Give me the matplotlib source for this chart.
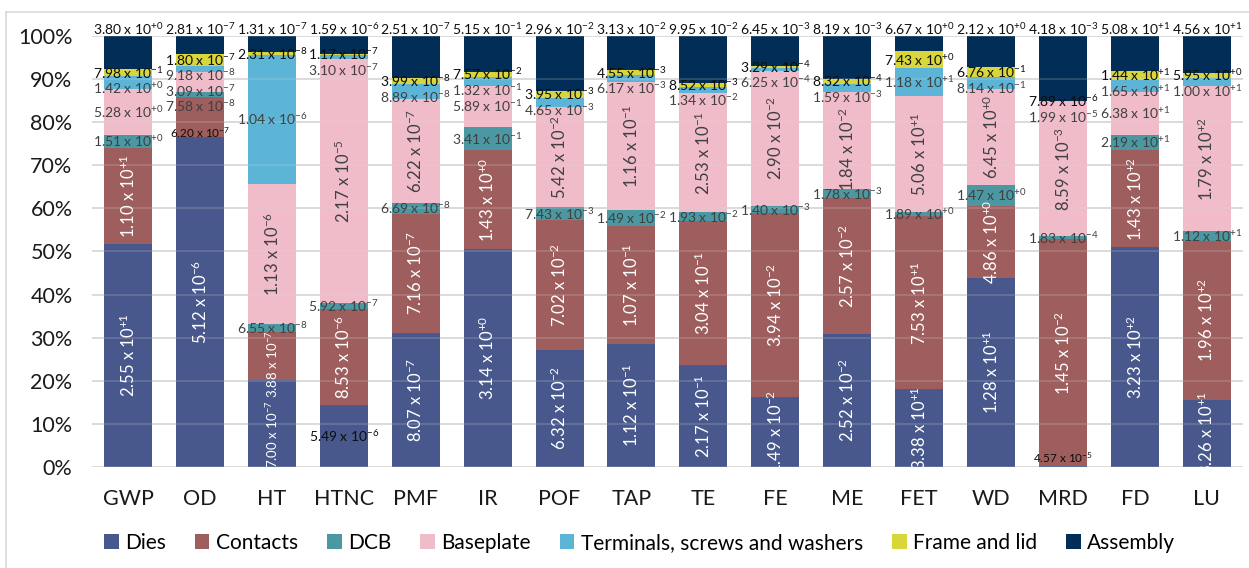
import numpy as np
import matplotlib.pyplot as plt
from matplotlib.lines import Line2D

plt.rcParams['font.family'] = ['Lato', 'DejaVu Sans']
plt.rcParams['mathtext.default'] = 'regular'

categories = ['GWP', 'OD', 'HT', 'HTNC', 'PMF', 'IR', 'POF', 'TAP',
              'TE', 'FE', 'ME', 'FET', 'WD', 'MRD', 'FD', 'LU']
series = ['Dies', 'Contacts', 'DCB', 'Baseplate',
          'Terminals, screws and washers', 'Frame and lid', 'Assembly']

dies = [2.55e1, 5.12e-6, 7.00e-7, 5.49e-6, 8.07e-7, 3.14e0, 6.32e-2, 1.12e-1,
        2.17e-1, 1.49e-2, 2.52e-2, 3.38e1, 1.28e1, 4.57e-5, 3.23e2, 8.26e1]
contacts = [1.10e1, 6.20e-7, 3.88e-7, 8.53e-6, 7.16e-7, 1.43e0, 7.02e-2, 1.07e-1,
            3.04e-1, 3.94e-2, 2.57e-2, 7.53e1, 4.86e0, 1.45e-2, 1.43e2, 1.96e2]
dcb = [1.51e0, 7.58e-8, 6.55e-8, 5.92e-7, 6.69e-8, 3.41e-1, 7.43e-3, 1.49e-2,
       1.93e-2, 1.40e-3, 1.78e-3, 1.89e0, 1.47e0, 1.83e-4, 2.19e1, 1.12e1]
baseplate = [5.28e0, 3.09e-7, 1.13e-6, 2.17e-5, 6.22e-7, 5.89e-1, 5.42e-2, 1.16e-1,
             2.53e-1, 2.90e-2, 1.84e-2, 5.06e1, 6.45e0, 8.59e-3, 6.38e1, 1.79e2]
terminals = [1.42e0, 9.18e-8, 1.04e-6, 3.10e-7, 8.89e-8, 1.32e-1, 4.65e-3, 6.17e-3,
             1.34e-2, 6.25e-4, 1.59e-3, 1.18e1, 8.14e-1, 1.99e-5, 1.65e1, 1.00e1]
frame = [7.98e-1, 1.80e-7, 2.31e-8, 1.17e-7, 3.99e-8, 7.57e-2, 3.95e-3, 4.55e-3,
         8.52e-3, 3.29e-4, 8.32e-4, 7.43e0, 6.76e-1, 7.89e-6, 1.44e1, 5.95e0]
assembly = [3.80e0, 2.81e-7, 1.31e-7, 1.59e-6, 2.51e-7, 5.15e-1, 2.96e-2, 3.13e-2,
            9.95e-2, 6.45e-3, 8.19e-3, 6.67e0, 2.12e0, 4.18e-3, 5.08e1, 4.56e1]

colors = ['#48588C', '#9E5E5E', '#4B98A2', '#F0BCCA', '#5CB4D6', '#D8D63A', '#022D56']


def sci(v):
    m, e = f'{v:.2e}'.split('e')
    return f'{m} x 10$^{{{int(e):+d}}}$'


vals = np.array([dies, contacts, dcb, baseplate, terminals, frame, assembly])
share = vals / vals.sum(axis=0)
x = np.arange(len(categories))

fig = plt.figure(figsize=(12.49, 5.68), dpi=100)
ax = fig.add_axes([0.0737, 0.178, 0.9213, 0.7586])

bottom = np.zeros(len(categories))
for j in range(len(series)):
    ax.bar(x, share[j], 0.667, bottom=bottom, color=colors[j], label=series[j], zorder=2)
    bottom += share[j]

# grid under bars + faint grid showing through bars
yt = np.linspace(0, 1, 11)
for t in yt:
    ax.axhline(t, color='#d9d9d9', lw=1.3, zorder=0)
    ax.axhline(t, color='#d9d9d9', lw=1.3, alpha=0.2, zorder=3)

ax.set_xlim(-0.5, 15.5)
ax.set_ylim(0, 1)
ax.set_yticks(yt)
ax.set_yticklabels([f'{int(round(t * 100))}%' for t in yt])
ax.set_xticks(x)
ax.set_xticklabels(categories)
ax.tick_params(axis='both', length=0, labelsize=15.5, colors='#1a1a1a')
ax.tick_params(axis='x', pad=16)
ax.tick_params(axis='y', pad=14)
for s in ax.spines.values():
    s.set_visible(False)

# label styles
rot_small = {(2, 0), (2, 1)}
horiz_black = {(3, 0), (13, 0), (1, 1)}
nudge = {(1, 1): -0.025, (13, 0): 0.021, (2, 0): -0.026, (2, 1): -0.02,
         (10, 3): -0.02}
gap = 0.036
fs = 10

tops = np.cumsum(share, axis=0)
for i in range(len(categories)):
    # assembly on top of bar
    ax.text(x[i], 1.016, sci(vals[6, i]), ha='center', va='center', fontsize=fs,
            color='#0d0d0d', zorder=5)
    prev = 10.0
    for j in range(5, -1, -1):
        c = tops[j, i] - share[j, i] / 2
        key = (i, j)
        if j in (0, 1) and key not in horiz_black:
            y = c + nudge.get(key, 0)
            ax.text(x[i], y, sci(vals[j, i]), ha='center', va='center', rotation=90,
                    fontsize=9.5 if key in rot_small else 12, color='white', zorder=5)
            prev = 10.0
            continue
        if j == 3 and share[j, i] > 0.12:
            ax.text(x[i], c + nudge.get(key, 0), sci(vals[j, i]), ha='center',
                    va='center', rotation=90, fontsize=12, color='#404040', zorder=5)
            prev = 10.0
            continue
        y = min(c, prev - gap) + nudge.get(key, 0)
        prev = y
        if j == 5 or key in horiz_black:
            col = '#0d0d0d'
        else:
            col = '#404040'
        size = 8.5 if key in {(1, 1), (13, 0)} else fs
        ax.text(x[i], y, sci(vals[j, i]), ha='center', va='center', fontsize=size,
                color=col, zorder=5)

fig.legend(loc='center', bbox_to_anchor=(0.512, 0.044), ncol=7, frameon=False,
           fontsize=15, handlelength=0.7, handleheight=0.7, handletextpad=0.3,
           columnspacing=1.4)

fig.add_artist(Line2D([6 / 1249, 1], [1 - 12 / 568] * 2, color='#d9d9d9', lw=1.2))
fig.add_artist(Line2D([6 / 1249] * 2, [0, 1 - 12 / 568], color='#d9d9d9', lw=1.2))

fig.savefig('out.png', dpi=100)
